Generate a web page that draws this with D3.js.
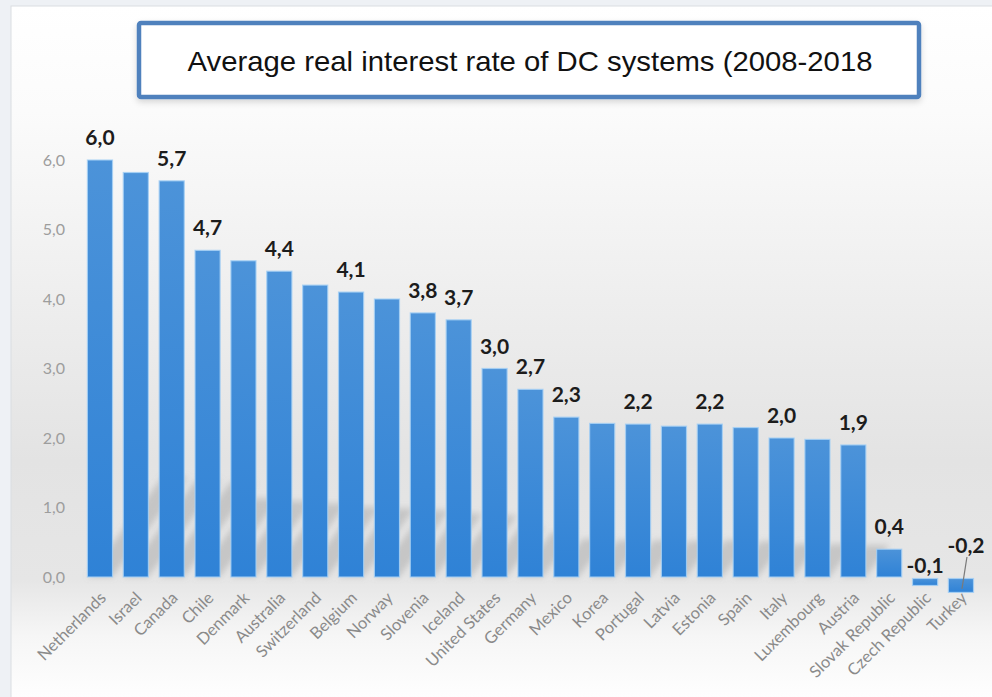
<!DOCTYPE html>
<html>
<head>
<meta charset="utf-8">
<script src="https://cdn.jsdelivr.net/npm/d3@7"></script>
<style>
  html, body { margin: 0; padding: 0; background: #eef1f5; }
  svg { display: block; }
</style>
</head>
<body>
<svg id="chart" width="992" height="697"></svg>
<script>
// Average real interest rate of DC systems, 2008-2018, by country
const categories = [
  "Netherlands", "Israel", "Canada", "Chile", "Denmark", "Australia",
  "Switzerland", "Belgium", "Norway", "Slovenia", "Iceland", "United States",
  "Germany", "Mexico", "Korea", "Portugal", "Latvia", "Estonia", "Spain",
  "Italy", "Luxembourg", "Austria", "Slovak Republic", "Czech Republic", "Turkey"
];
const rates = [
  6.0, 5.82, 5.7, 4.7, 4.55, 4.4,
  4.2, 4.1, 4.0, 3.8, 3.7, 3.0,
  2.7, 2.3, 2.21, 2.2, 2.17, 2.2, 2.15,
  2.0, 1.98, 1.9, 0.4, -0.1, -0.2
];
// countries whose bar carries a value label
const labelled = [
  "Netherlands", "Canada", "Chile", "Australia", "Belgium", "Slovenia",
  "Iceland", "United States", "Germany", "Mexico", "Portugal", "Estonia",
  "Italy", "Austria", "Slovak Republic", "Czech Republic", "Turkey"
];
const yTicks = [0, 1, 2, 3, 4, 5, 6];
const titleText = "Average real interest rate of DC systems (2008-2018";

const data = categories.map((c, i) => ({ country: c, value: rates[i] }));

const locale = d3.formatLocale({ decimal: ",", thousands: ".", grouping: [3], currency: ["", "€"], minus: "-" });
const fmt = locale.format(".1f");

const svg = d3.select("#chart");
const defs = svg.append("defs");

// card background: white at the top, grey band through the bars, white at the bottom
const bg = defs.append("linearGradient").attr("id", "cardBg")
  .attr("x1", 0).attr("y1", 0).attr("x2", 0).attr("y2", 1);
[[0, "#ffffff"], [0.15, "#fbfbfb"], [0.4, "#efefef"], [0.65, "#e3e3e3"], [0.82, "#e6e6e6"],
 [0.9, "#f6f6f6"], [1, "#ffffff"]]
  .forEach(([o, c]) => bg.append("stop").attr("offset", o).attr("stop-color", c));

const barGrad = defs.append("linearGradient").attr("id", "barFill")
  .attr("x1", 0).attr("y1", 0).attr("x2", 0).attr("y2", 1);
barGrad.append("stop").attr("offset", 0).attr("stop-color", "#4c93d9");
barGrad.append("stop").attr("offset", 1).attr("stop-color", "#2f82d6");

const blur = defs.append("filter").attr("id", "soft")
  .attr("x", "-50%").attr("y", "-50%").attr("width", "200%").attr("height", "200%");
blur.append("feGaussianBlur").attr("stdDeviation", 3);

const boxShadow = defs.append("filter").attr("id", "boxShadow")
  .attr("x", "-10%").attr("y", "-30%").attr("width", "120%").attr("height", "170%");
boxShadow.append("feDropShadow").attr("dx", 0).attr("dy", 3).attr("stdDeviation", 3)
  .attr("flood-color", "#000").attr("flood-opacity", 0.15);

// card
svg.append("rect").attr("x", 11).attr("y", 6).attr("width", 992).attr("height", 700)
  .attr("fill", "url(#cardBg)").attr("stroke", "#dadde1").attr("stroke-width", 1);

// scales
const x = d3.scaleBand().domain(categories).range([87.4, 973.5])
  .paddingInner(0.3).paddingOuter(0);
const y = d3.scaleLinear().domain([0, 6]).range([577, 160]);

const plot = svg.append("g");

// soft perspective shadows behind the bars
plot.append("g").attr("filter", "url(#soft)").selectAll("path")
  .data(data.filter(d => d.value > 1))
  .join("path")
  .attr("d", d => {
    const x0 = x(d.country), w = x.bandwidth();
    const h = (y(0) - y(d.value)) * 0.24;
    const s = h * 0.75;
    return `M${x0},${y(0)} L${x0 + w},${y(0)} L${x0 + w + s},${y(0) - h} L${x0 + s},${y(0) - h} Z`;
  })
  .attr("fill", "#8c8c8c").attr("opacity", 0.35);

// bars
plot.append("g").selectAll("rect")
  .data(data)
  .join("rect")
  .attr("x", d => x(d.country))
  .attr("y", d => Math.min(y(d.value), y(0)) + (d.value < 0 ? 1.5 : 0))
  .attr("width", x.bandwidth())
  .attr("height", d => Math.abs(y(d.value) - y(0)))
  .attr("fill", "url(#barFill)")
  .attr("stroke", "#a6d0f4").attr("stroke-width", 1.2).attr("stroke-opacity", 0.85);

// y axis labels (no axis line)
const yAxis = d3.axisLeft(y).tickValues(yTicks).tickFormat(fmt).tickSize(0).tickPadding(0);
const yg = svg.append("g").attr("transform", "translate(65,0)").call(yAxis);
yg.select(".domain").remove();
yg.selectAll("text")
  .attr("font-family", "Lato, 'Open Sans', sans-serif")
  .attr("font-size", 16).attr("fill", "#9d9d9d");

// x axis labels, rotated
const xAxis = d3.axisBottom(x).tickSize(0).tickPadding(0);
const xg = svg.append("g").call(xAxis);
xg.select(".domain").remove();
xg.selectAll(".tick").attr("transform", null);
xg.selectAll(".tick text")
  .attr("text-anchor", "end")
  .attr("dy", null).attr("y", null)
  .attr("transform", d => `translate(${x(d) + x.bandwidth() / 2 + 7},${599}) rotate(-45)`)
  .attr("font-family", "Lato, 'Open Sans', sans-serif")
  .attr("font-size", 16.5).attr("fill", "#8a8a8a");

// value labels
const labelG = svg.append("g")
  .attr("font-family", "Lato, 'Open Sans', sans-serif")
  .attr("font-weight", 700).attr("font-size", 21).attr("fill", "#1c1c1c")
  .attr("text-anchor", "middle");

let prevNeg = null;
data.filter(d => labelled.includes(d.country)).forEach(d => {
  const cx = x(d.country) + x.bandwidth() / 2;
  let ly = d.value >= 0 ? y(d.value) - 15 : y(0) - 4;
  let lx = cx;
  if (d.value < 0 && prevNeg !== null && cx - prevNeg < 40) {
    // lift a crowded label and tie it to its bar with a leader
    ly -= 20;
    lx += 5;
    svg.append("line")
      .attr("x1", lx + 1).attr("y1", ly + 4)
      .attr("x2", cx + 1).attr("y2", (y(0) + y(d.value)) / 2 + 5)
      .attr("stroke", "#7a7a7a").attr("stroke-width", 1.2);
  }
  if (d.value < 0) prevNeg = cx;
  labelG.append("text").attr("x", lx).attr("y", ly).text(fmt(d.value));
});

// title box
const tb = svg.append("g");
tb.append("rect").attr("x", 139).attr("y", 23).attr("width", 780).attr("height", 74)
  .attr("rx", 2).attr("fill", "#ffffff").attr("stroke", "#4f81bd").attr("stroke-width", 4.5)
  .attr("filter", "url(#boxShadow)");
tb.append("text").attr("x", 530).attr("y", 71)
  .attr("text-anchor", "middle")
  .attr("font-family", "'Liberation Sans', Arial, sans-serif")
  .attr("font-size", 28).attr("fill", "#111")
  .attr("textLength", 685).attr("lengthAdjust", "spacingAndGlyphs")
  .text(titleText);
</script>
</body>
</html>
